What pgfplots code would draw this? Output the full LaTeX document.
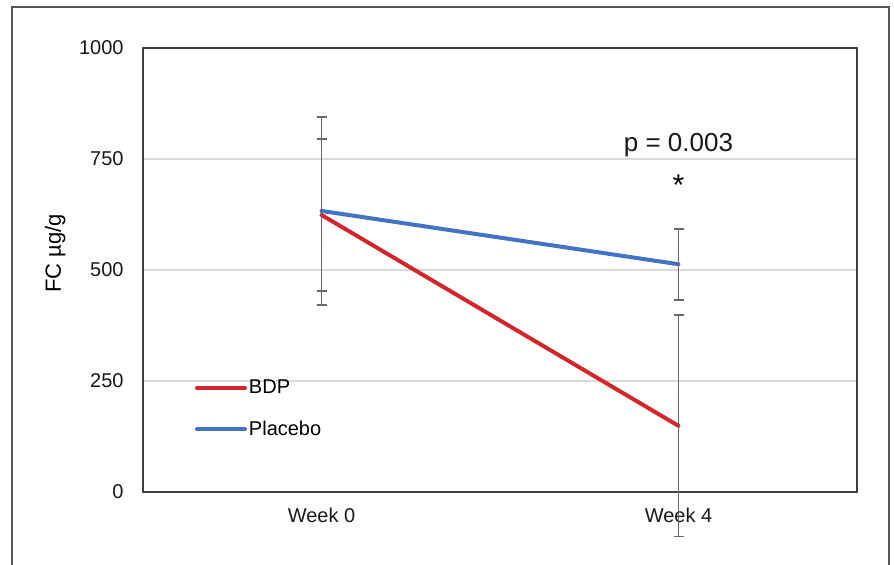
\documentclass[border=0pt]{standalone}
\usepackage{fontspec}
\setmainfont{Liberation Sans}
\usepackage{pgfplots}
\pgfplotsset{compat=1.18}

\definecolor{bdpred}{RGB}{210,40,45}
\definecolor{plblue}{RGB}{68,114,196}
\definecolor{framegray}{RGB}{85,85,85}
\definecolor{errgray}{RGB}{105,105,105}
\definecolor{gridgray}{RGB}{217,217,217}

\begin{document}
\begin{tikzpicture}
% page = 894 x 564 px at 0.5pt per px
\useasboundingbox (0,0) rectangle (447pt,282pt);
\begin{scope}[x=0.5pt, y=0.5pt]
  \draw[framegray, line width=1pt] (12,-5) -- (12,557.3) -- (889,557.3) -- (889,-5);
\end{scope}

\begin{axis}[
    at={(71.5pt,36pt)}, anchor=south west,
    scale only axis, width=357pt, height=222pt,
    xmin=-0.5, xmax=1.5, ymin=0, ymax=1000,
    xtick={0,1}, xticklabels={Week 0, Week 4},
    ytick={0,250,500,750,1000},
    major tick length=0pt,
    ymajorgrids, grid style={gridgray, line width=0.6pt},
    axis line style={black!75, line width=0.75pt},
    tick label style={font=\fontsize{10}{12}\selectfont, text=black!90},
    /pgf/number format/assume math mode=true,
    /pgf/number format/1000 sep={},
    yticklabel style={inner sep=0pt, anchor=east, xshift=-9.5pt},
    xticklabel style={inner sep=0pt, anchor=north, yshift=-8pt},
    ylabel={FC µg/g},
    ylabel style={font=\fontsize{11}{13}\selectfont, at={(axis description cs:-0.123,0.538)}, anchor=center},
    clip=false,
    legend style={at={(axis description cs:0.0728,0.187)}, anchor=west,
        draw=none, fill=none, inner sep=0pt, outer sep=0pt,
        row sep=12pt, column sep=1pt, font=\fontsize{10}{12}\selectfont,
        nodes={inner sep=0pt}},
    legend cell align=left,
    legend image code/.code={\draw[#1, line cap=round] (0pt,0pt) -- (24pt,0pt);},
]
\addplot[bdpred, line width=2pt, line cap=round, mark=none,
    error bars/.cd, y dir=both, y explicit,
    error bar style={errgray, line width=0.8pt},
    error mark options={rotate=90, errgray, line width=0.8pt, mark size=2.5pt}]
    coordinates {(0,624) +- (0,171) (1,149) +- (0,249)};
\addplot[plblue, line width=2pt, line cap=round, mark=none,
    error bars/.cd, y dir=both, y explicit,
    error bar style={errgray, line width=0.8pt},
    error mark options={rotate=90, errgray, line width=0.8pt, mark size=2.5pt}]
    coordinates {(0,633) +- (0,212) (1,513) +- (0,80)};
\legend{BDP, Placebo}

\node[font=\fontsize{13}{15}\selectfont, text=black!90] at (axis cs:1,781) {p = 0.003};
\node[font=\fontsize{15}{17}\selectfont, inner sep=0pt] at (axis cs:1,690) {*};
\end{axis}
\end{tikzpicture}
\end{document}
